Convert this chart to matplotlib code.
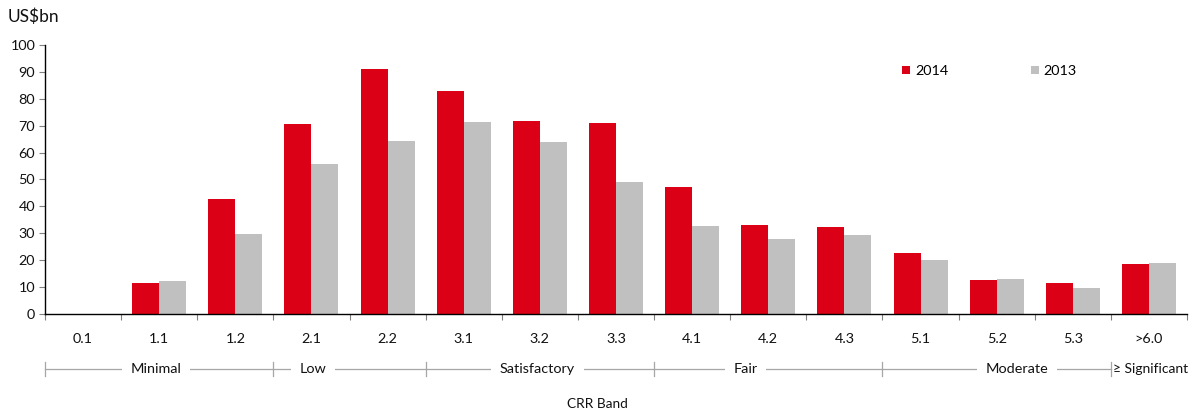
import numpy as np
import matplotlib.pyplot as plt
from matplotlib.patches import Patch

plt.rcParams['font.family'] = ['Lato', 'DejaVu Sans']

bands = ['0.1', '1.1', '1.2', '2.1', '2.2', '3.1', '3.2', '3.3',
         '4.1', '4.2', '4.3', '5.1', '5.2', '5.3', '>6.0']
v2014 = [0, 11.5, 42.9, 70.6, 91.2, 82.9, 71.7, 71.0, 47.3, 33.0, 32.5, 22.6, 12.8, 11.5, 18.6]
v2013 = [0, 12.3, 29.8, 55.8, 64.4, 71.3, 64.1, 49.0, 32.7, 28.0, 29.2, 20.1, 12.9, 9.8, 19.1]

groups = ['Minimal', 'Low', 'Satisfactory', 'Fair', 'Moderate', '\u2265 Significant']
group_start = [0, 3, 5, 8, 11, 14]
group_end = [3, 5, 8, 11, 14, 15]

RED = '#DB0015'
GREY = '#C0C0C0'
LINE = '#A6A6A6'
TXT = '#111111'
FS = 10.4

fig = plt.figure(figsize=(11.95, 4.15), dpi=100)
ax = fig.add_axes([45/1195, 101/415, 1142/1195, 269/415])

x = np.arange(len(bands))
w = 0.355
ax.bar(x - w/2, v2014, w, color=RED, label='2014')
ax.bar(x + w/2, v2013, w, color=GREY, label='2013')

ax.set_xlim(-0.5, len(bands) - 0.5)
ax.set_ylim(0, 100)
ax.set_yticks(range(0, 101, 10))
ax.tick_params(axis='y', direction='out', length=4, width=0.8, color='#808080',
               labelsize=FS, pad=3, labelcolor=TXT)

ax.set_xticks(x)
ax.set_xticklabels(bands)
ax.set_xticks(np.arange(-0.5, len(bands)), minor=True)
ax.tick_params(axis='x', which='major', length=0, pad=14, labelsize=FS, labelcolor=TXT)
ax.tick_params(axis='x', which='minor', direction='out', length=4, width=0.8, color='#808080')

for s in ['top', 'right']:
    ax.spines[s].set_visible(False)
for s in ['left', 'bottom']:
    ax.spines[s].set_color('black')
    ax.spines[s].set_linewidth(1.0)

# CRR group brackets below the axis
tr = ax.get_xaxis_transform()
yl = (314 - 369) / 269
th = 7 / 269
label_x = [0.96, 3.02, 5.97, 8.7, 12.27]
for i, name in enumerate(groups):
    a = group_start[i] - 0.5
    b = group_end[i] - 0.5
    ax.plot([a, a], [yl - th, yl + th], color=LINE, lw=0.9, transform=tr, clip_on=False)
    if i < len(groups) - 1:
        ax.plot([a, b], [yl, yl], color=LINE, lw=0.9, transform=tr, clip_on=False)
        ax.text(label_x[i], yl, name, transform=tr, ha='center', va='center',
                fontsize=FS, color=TXT,
                bbox=dict(facecolor='white', edgecolor='none', boxstyle='square,pad=0.6'))
    else:
        ax.text(a + 0.03, yl, name, transform=tr, ha='left', va='center',
                fontsize=10, color=TXT)

fig.text(8/1195, (415 - 17)/415, 'US$bn', fontsize=12.5, color=TXT, va='center', ha='left')
fig.text(597/1195, (415 - 404)/415, 'CRR Band', fontsize=9.8, color=TXT, va='center', ha='center')

handles = [Patch(facecolor=RED, label='2014'), Patch(facecolor=GREY, label='2013')]
fig.legend(handles=handles, loc='center left', bbox_to_anchor=(902/1195, (415 - 71)/415),
           ncol=2, frameon=False, fontsize=FS, handlelength=0.55, handleheight=0.55,
           handletextpad=0.35, columnspacing=5.7, borderaxespad=0, borderpad=0)

fig.savefig('out.png', dpi=100)
